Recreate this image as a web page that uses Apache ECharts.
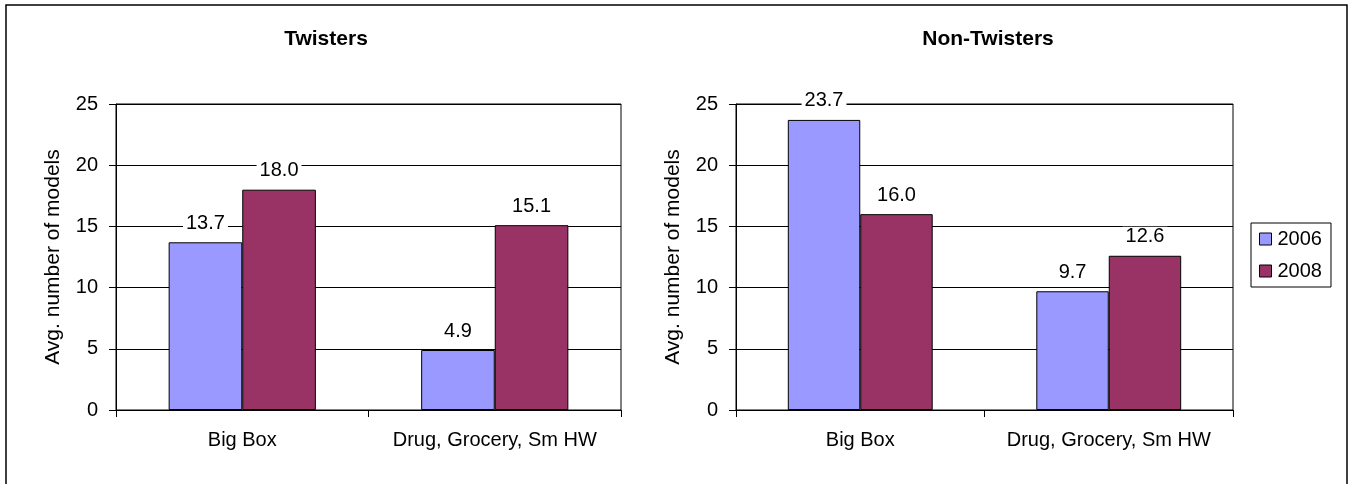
<!DOCTYPE html>
<html>
<head>
<meta charset="utf-8">
<title>Avg. number of models</title>
<script src="https://cdn.jsdelivr.net/npm/echarts@6/dist/echarts.min.js"></script>
<style>
  html, body { margin: 0; padding: 0; background: #fff; }
  #chart { width: 1349px; height: 484px; }
</style>
</head>
<body>
<div id="chart"></div>
<script>
// Store channels and survey years
const categories = ['Big Box', 'Drug, Grocery, Sm HW'];
const years = ['2006', '2008'];

// Average number of models per store type
const twisters2006 = [13.7, 4.9];
const twisters2008 = [18.0, 15.1];
const nonTwisters2006 = [23.7, 9.7];
const nonTwisters2008 = [16.0, 12.6];

const panelTitles = ['Twisters', 'Non-Twisters'];
const axisName = 'Avg. number of models';

const FONT = "'Liberation Sans', Arial, sans-serif";
const colors = { '2006': '#9999FF', '2008': '#993366' };

function yAxis(gridIndex) {
  return {
    type: 'value', gridIndex: gridIndex, min: 0, max: 25, interval: 5,
    name: axisName, nameLocation: 'middle', nameGap: 52, nameRotate: 90,
    nameTextStyle: { fontFamily: FONT, fontSize: 21, color: '#000' },
    axisLine: { show: true, lineStyle: { color: '#000', width: 1 } },
    axisTick: { show: true, length: 7, lineStyle: { color: '#000' } },
    axisLabel: { margin: 18, fontFamily: FONT, fontSize: 20, color: '#000' },
    splitLine: { show: true, lineStyle: { color: '#000', width: 1 } }
  };
}

function xAxis(gridIndex) {
  return {
    type: 'category', gridIndex: gridIndex, data: categories,
    axisLine: { show: true, lineStyle: { color: '#000', width: 1 } },
    axisTick: { show: true, length: 7, lineStyle: { color: '#000' } },
    axisLabel: { interval: 0, margin: 20, fontFamily: FONT, fontSize: 20, color: '#000' },
    splitLine: { show: false }
  };
}

function barSeries(name, values, idx) {
  return {
    type: 'bar', name: name, data: values,
    xAxisIndex: idx, yAxisIndex: idx,
    barGap: '0%', barCategoryGap: '41.7%',
    itemStyle: { color: colors[name], borderColor: '#000', borderWidth: 1 },
    label: {
      show: true, position: 'top', distance: 9,
      formatter: p => p.value.toFixed(1),
      fontFamily: FONT, fontSize: 20, color: '#000',
      backgroundColor: '#fff', padding: [0, 3]
    },
    emphasis: { disabled: true },
    animation: false
  };
}

const chart = echarts.init(document.getElementById('chart'), null, { renderer: 'canvas' });
chart.setOption({
  backgroundColor: '#fff',
  animation: false,
  title: [
    { text: panelTitles[0], left: 326, top: 29, textAlign: 'center', padding: 0,
      textStyle: { fontFamily: FONT, fontSize: 21, fontWeight: 'bold', color: '#000' } },
    { text: panelTitles[1], left: 988, top: 29, textAlign: 'center', padding: 0,
      textStyle: { fontFamily: FONT, fontSize: 21, fontWeight: 'bold', color: '#000' } }
  ],
  legend: {
    data: years, orient: 'vertical', left: 1251, top: 223,
    padding: [6, 9, 6, 8], itemGap: 12,
    borderColor: '#000', borderWidth: 1,
    icon: 'rect', itemWidth: 12, itemHeight: 12,
    itemStyle: { borderColor: '#000', borderWidth: 1 },
    textStyle: { fontFamily: FONT, fontSize: 20, color: '#000', padding: [0, 0, 0, 1] },
    selectedMode: false
  },
  grid: [
    { left: 116, right: 728, top: 104, bottom: 74, show: true, borderColor: '#000', borderWidth: 1, backgroundColor: 'transparent' },
    { left: 736, right: 116, top: 104, bottom: 74, show: true, borderColor: '#000', borderWidth: 1, backgroundColor: 'transparent' }
  ],
  xAxis: [xAxis(0), xAxis(1)],
  yAxis: [yAxis(0), yAxis(1)],
  series: [
    barSeries('2006', twisters2006, 0),
    barSeries('2008', twisters2008, 0),
    barSeries('2006', nonTwisters2006, 1),
    barSeries('2008', nonTwisters2008, 1)
  ],
  graphic: [
    { type: 'rect', silent: true, z: 100,
      shape: { x: 6, y: 5, width: 1341, height: 520 },
      style: { fill: 'none', stroke: '#000', lineWidth: 1.5 } }
  ]
});
</script>
</body>
</html>
